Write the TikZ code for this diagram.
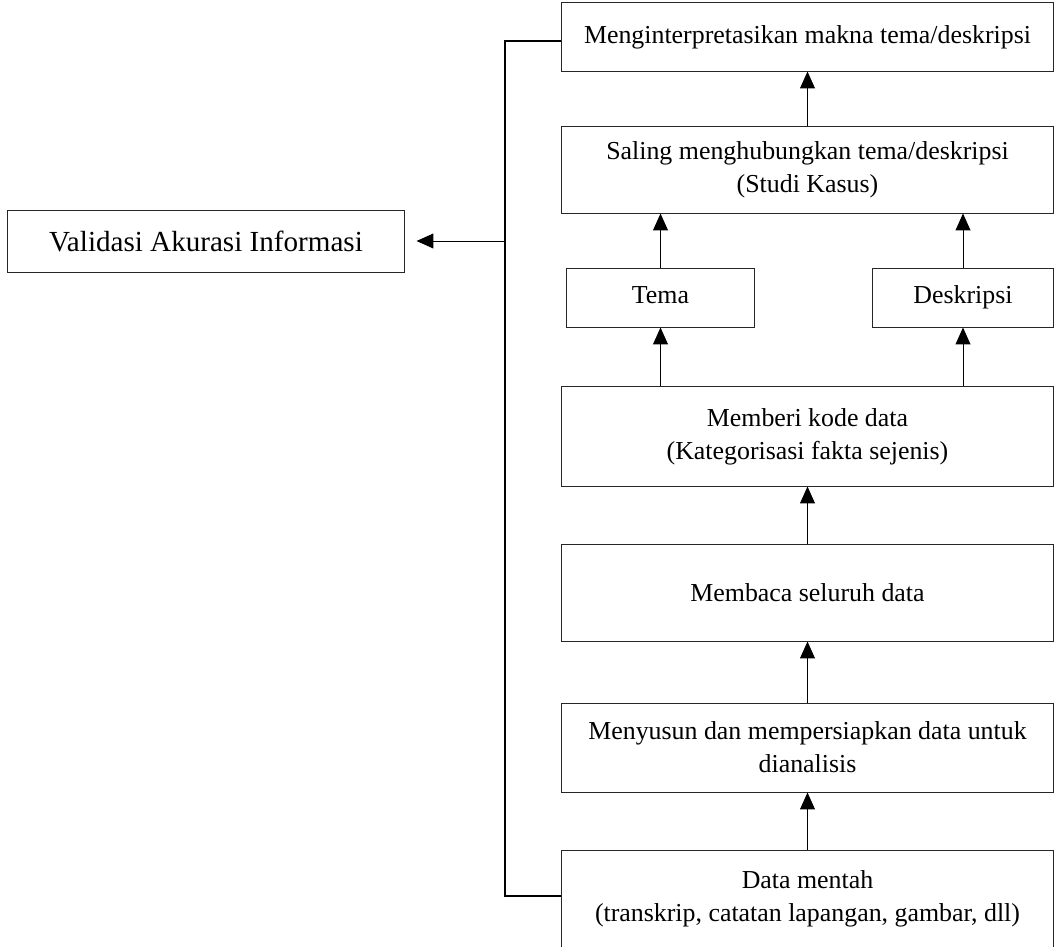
\documentclass[tikz,border=0pt]{standalone}
\usepackage{fontspec}
\setmainfont{Liberation Serif}
\usetikzlibrary{arrows.meta}

\begin{document}
\begin{tikzpicture}[x=0.025cm, y=-0.025cm,
  step box/.style={rectangle, draw=black!85, line width=0.7pt, minimum width=12.275cm,
                   align=center, inner sep=0pt, font=\fontsize{18.4}{23.5}\selectfont},
  side box/.style={step box, minimum height=1.475cm, text height=12pt, text depth=4pt},
  arr/.style={line width=0.7pt, -{Triangle[length=4.2mm, width=3.7mm]}},
  fb/.style={line width=1.7pt},
]
\useasboundingbox (0,0) rectangle (1055,947);
% ---- main column (bottom to top) ----
\node[step box, minimum height=2.45cm] (data) at (807.5, 899)
  {Data mentah\\(transkrip, catatan lapangan, gambar, dll)};
\node[step box, minimum height=2.225cm] (susun) at (807.5, 747.5)
  {Menyusun dan mempersiapkan data untuk\\dianalisis};
\node[step box, minimum height=2.4cm] (baca) at (807.5, 593) {Membaca seluruh data};
\node[step box, minimum height=2.475cm] (kode) at (807.5, 436.5)
  {Memberi kode data\\(Kategorisasi fakta sejenis)};
\node[side box, minimum width=4.675cm] (tema) at (660.5, 297.5) {Tema};
\node[side box, minimum width=4.5cm] (desk) at (963, 297.5) {Deskripsi};
\node[step box, minimum height=2.15cm] (hubung) at (807.5, 170)
  {Saling menghubungkan tema/deskripsi\\(Studi Kasus)};
\node[step box, minimum height=1.7cm] (makna) at (807.5, 37)
  {Menginterpretasikan makna tema/deskripsi};
% ---- validation box ----
\node[step box, minimum width=9.9cm, minimum height=1.55cm,
      font=\fontsize{20.7}{25}\selectfont] (valid) at (206, 241) {Validasi Akurasi Informasi};
% ---- flow arrows ----
\draw[arr] (data.north) -- (susun.south);
\draw[arr] (susun.north) -- (baca.south);
\draw[arr] (baca.north) -- (kode.south);
\draw[arr] (tema.south |- kode.north) -- (tema.south);
\draw[arr] (desk.south |- kode.north) -- (desk.south);
\draw[arr] (tema.north) -- (tema.north |- hubung.south);
\draw[arr] (desk.north) -- (desk.north |- hubung.south);
\draw[arr] (hubung.north) -- (makna.south);
% ---- feedback line to validation ----
\coordinate (fbtop) at (505, 41);
\coordinate (fbbot) at (505, 896);
\draw[fb] (makna.west |- fbtop) -- (fbtop) -- (fbbot) -- (data.west |- fbbot);
\draw[arr, shorten >=0.3cm] (fbtop |- valid.east) -- (valid.east);
\end{tikzpicture}
\end{document}
